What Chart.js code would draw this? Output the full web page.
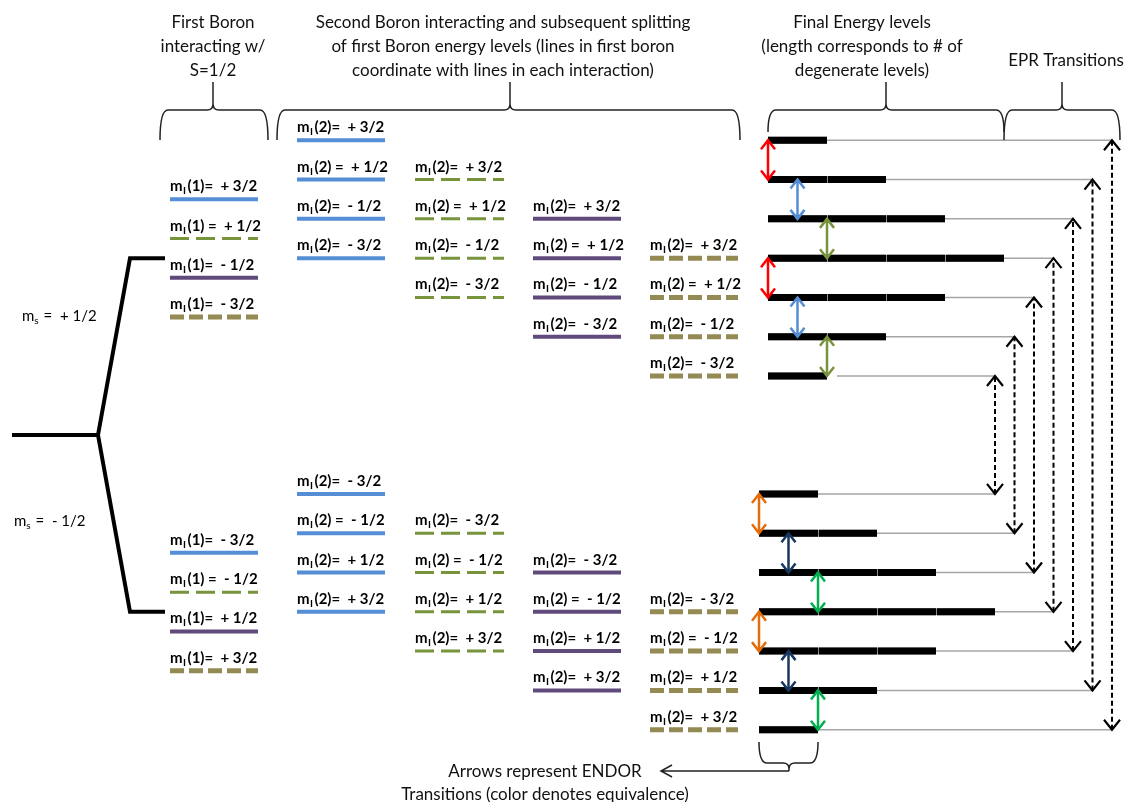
<!DOCTYPE html>
<html><head><meta charset="utf-8">
<script src="https://cdn.jsdelivr.net/npm/chart.js@4/dist/chart.umd.min.js"></script>
<style>html,body{margin:0;padding:0;background:#fff;}#wrap{width:1129px;height:802px;position:relative;}</style>
</head><body><div id="wrap"><canvas id="c" width="1129" height="802"></canvas></div>
<script>
// ---------------- data ----------------
const msValues = [0.5, -0.5];                 // electron spin states
const mI1Values = [1.5, 0.5, -0.5, -1.5];     // first boron nuclear spin
const mI2Values = [1.5, 0.5, -0.5, -1.5];     // second boron nuclear spin
const finalSums = [3, 2, 1, 0, -1, -2, -3];   // mI(1)+mI(2)
const degeneracy = [1, 2, 3, 4, 3, 2, 1];     // # of degenerate levels for each sum
const endorGroups = [0, 1, 2, 0, 1, 2];       // equivalence class of each ENDOR transition (top to bottom)
const eprSums = [-3, -2, -1, 0, 1, 2, 3];     // EPR transitions (ΔmI = 0)
const ZEEMAN = 9, HYPERFINE = 2;              // arbitrary energy units
const energy = (ms, sum) => ms * (ZEEMAN + HYPERFINE * sum);

const headerTexts = [
  ["First Boron", "interacting w/", "S=1/2"],
  ["Second Boron interacting and subsequent splitting", "of first Boron energy levels (lines in first boron", "coordinate with lines in each interaction)"],
  ["Final Energy levels", "(length corresponds to # of", "degenerate levels)"],
  ["EPR Transitions"]
];
const footerTexts = ["Arrows represent ENDOR", "Transitions (color denotes equivalence)"];

// ---------------- layout / styles ----------------
const Y_MAX = 11.07, Y_MIN = -9.34;
const L = {
  root: {x0: 12, x1: 98, xs: 130, xe: 165},
  col1: {x0: 170, x1: 258},
  cols: [{x0: 297, x1: 385}, {x0: 415, x1: 504}, {x0: 533, x1: 621}, {x0: 650, x1: 738}],
  finalStart: {"0.5": 768, "-0.5": 759}, seg: 59,
  eprX0: 995, eprStep: 19.5, endorStep: 29.5,
  headerX: [213, 503, 862, 1066], headerY: [28, 52, 76], eprHeaderY: 66,
  braces: [
    {x0: 160, x1: 268, xc: 213, yTip: 82, yMid: 110, yEnd: 140},
    {x0: 277, x1: 740, xc: 510, yTip: 82, yMid: 110, yEnd: 140},
    {x0: 768, x1: 1004, xc: 886, yTip: 82, yMid: 110, yEnd: 132},
    {x0: 1004, x1: 1120, xc: 1062, yTip: 82, yMid: 110, yEnd: 140},
    {x0: 759, x1: 818, xc: 789, yTip: 771, yMid: 763, yEnd: 742}
  ]
};
const rankStyles = [
  {color: '#558ed5', width: 4, dash: []},
  {color: '#77933c', width: 3, dash: [19, 7]},
  {color: '#604a7b', width: 4, dash: []},
  {color: '#948a54', width: 5, dash: [14, 5]}
];
const endorColors = {"0.5": ['#ff0000', '#558ed5', '#77933c'], "-0.5": ['#e46c0a', '#17375e', '#00b050']};

// ---------------- build datasets ----------------
const datasets = [];
function line(points, color, width, dash, order, extra) {
  datasets.push(Object.assign({data: points, showLine: true, pointRadius: 0, pointHoverRadius: 0,
    borderColor: color, backgroundColor: color, borderWidth: width, borderDash: dash || [],
    borderCapStyle: 'butt', borderJoinStyle: 'miter', fill: false, tension: 0, order: order}, extra || {}));
}
const labels = []; // {x, E, idx, sep, val}
const fmt = v => (v > 0 ? '+ ' : '- ') + (Math.abs(v) * 2) + '/2';

msValues.forEach(ms => {
  const eMs = energy(ms, 0);
  line([{x: L.root.x1, y: 0}, {x: L.root.xs, y: eMs}, {x: L.root.xe, y: eMs}], '#000', 4, [], 6);
  const sorted1 = mI1Values.slice().sort((a, b) => energy(ms, b) - energy(ms, a));
  sorted1.forEach((m1, r) => {
    const st = rankStyles[r];
    line([{x: L.col1.x0, y: energy(ms, m1)}, {x: L.col1.x1, y: energy(ms, m1)}], st.color, st.width, st.dash, 5);
    labels.push({x: L.col1.x0, E: energy(ms, m1), idx: 1, sep: r === 1 ? ' ' : '', val: fmt(m1)});
    const c = L.cols[r];
    const sorted2 = mI2Values.slice().sort((a, b) => energy(ms, m1 + b) - energy(ms, m1 + a));
    sorted2.forEach((m2, q) => {
      const E = energy(ms, m1 + m2);
      line([{x: c.x0, y: E}, {x: c.x1, y: E}], st.color, st.width, st.dash, 5);
      labels.push({x: c.x0, E: E, idx: 2, sep: q === 1 ? ' ' : '', val: fmt(m2)});
    });
  });
  // final levels
  const start = L.finalStart[String(ms)];
  const sortedS = finalSums.slice().sort((a, b) => energy(ms, b) - energy(ms, a));
  sortedS.forEach((s, i) => {
    const E = energy(ms, s);
    const deg = degeneracy[finalSums.indexOf(s)];
    // grey underlay shows through the thin gaps between degenerate segments
    line([{x: start, y: E}, {x: start + deg * L.seg, y: E}], '#8c8c8c', 7, [], 3);
    for (let k = 0; k < deg; k++) {
      const a = start + k * L.seg + (k > 0 ? 1 : 0);
      line([{x: a, y: E}, {x: start + (k + 1) * L.seg, y: E}], '#000', 7, [], 2);
    }
    const xe = L.eprX0 + (s + 3) * L.eprStep;
    const gap = (i === sortedS.length - 1 && ms > 0) ? 10 : 0;
    line([{x: start + deg * L.seg + gap, y: E}, {x: xe, y: E}], '#a6a6a6', 1.5, [], 4);
  });
  // ENDOR transitions
  endorGroups.forEach((g, i) => {
    const x = start + g * L.endorStep;
    line([{x: x, y: energy(ms, sortedS[i])}, {x: x, y: energy(ms, sortedS[i + 1])}],
      endorColors[String(ms)][g], 2.5, [], 0, {arrowHeads: {len: 9, half: 7, width: 2.5}});
  });
});
line([{x: L.root.x0, y: 0}, {x: L.root.x1, y: 0}], '#000', 4, [], 6);
// EPR transitions
eprSums.forEach(s => {
  const x = L.eprX0 + (s + 3) * L.eprStep;
  line([{x: x, y: energy(-0.5, s)}, {x: x, y: energy(0.5, s)}], '#000', 2, [5, 3], 1,
    {arrowHeads: {len: 10, half: 8, width: 2.2}});
});

// ---------------- plugins ----------------
const arrowPlugin = {
  id: 'arrowHeads',
  afterDatasetsDraw(chart) {
    const ctx = chart.ctx;
    chart.data.datasets.forEach((ds, i) => {
      if (!ds.arrowHeads) return;
      const pts = chart.getDatasetMeta(i).data;
      const a = ds.arrowHeads;
      [[pts[0], pts[1]], [pts[pts.length - 1], pts[pts.length - 2]]].forEach(([t, f]) => {
        const dx = t.x - f.x, dy = t.y - f.y, d = Math.hypot(dx, dy);
        const ux = dx / d, uy = dy / d, nx = -uy, ny = ux;
        ctx.save();
        ctx.strokeStyle = ds.borderColor; ctx.lineWidth = a.width; ctx.setLineDash([]);
        ctx.lineJoin = 'miter'; ctx.lineCap = 'butt';
        ctx.beginPath();
        ctx.moveTo(t.x - a.len * ux + a.half * nx, t.y - a.len * uy + a.half * ny);
        ctx.lineTo(t.x, t.y);
        ctx.lineTo(t.x - a.len * ux - a.half * nx, t.y - a.len * uy - a.half * ny);
        ctx.stroke();
        ctx.restore();
      });
    });
  }
};

const FONT = 'Lato, "Open Sans", sans-serif';
const textPlugin = {
  id: 'texts',
  afterDraw(chart) {
    const ctx = chart.ctx, xs = chart.scales.x, ys = chart.scales.y;
    const X = v => xs.getPixelForValue(v), Y = v => ys.getPixelForValue(v);
    ctx.save();
    ctx.fillStyle = '#111';
    ctx.textBaseline = 'alphabetic';
    // headers
    ctx.font = '17px ' + FONT; ctx.textAlign = 'center';
    headerTexts.forEach((lines, h) => {
      lines.forEach((t, j) => {
        const y = h === 3 ? L.eprHeaderY : L.headerY[j];
        ctx.fillText(t, X(L.headerX[h]), y);
      });
    });
    footerTexts.forEach((t, j) => ctx.fillText(t, X(545), 777 + j * 23));
    // level labels
    ctx.textAlign = 'left';
    ctx.fillStyle = '#000';
    labels.forEach(lb => {
      const x = X(lb.x), y = Y(lb.E) - 8;
      ctx.font = 'bold 15px ' + FONT;
      ctx.fillText('m', x, y);
      let w = ctx.measureText('m').width;
      ctx.font = 'bold 10px ' + FONT;
      ctx.fillText('I', x + w + 0.5, y + 3);
      w += ctx.measureText('I').width + 2;
      ctx.font = 'bold 15px ' + FONT;
      ctx.fillText('(' + lb.idx + ')' + lb.sep + '=  ' + lb.val, x + w, y);
    });
    // ms labels
    msValues.forEach(ms => {
      const x = ms > 0 ? 22 : 14, y = Y(energy(ms, 0)) + (ms > 0 ? 63 : -86);
      ctx.font = '15px ' + FONT;
      ctx.fillText('m', x, y);
      let w = ctx.measureText('m').width;
      ctx.font = '10px ' + FONT;
      ctx.fillText('s', x + w, y + 3);
      w += ctx.measureText('s').width + 1;
      ctx.font = '15px ' + FONT;
      ctx.fillText(' =  ' + fmt(ms), x + w, y);
    });
    // braces
    ctx.fillStyle = '#111';
    ctx.strokeStyle = '#222'; ctx.lineWidth = 1.5; ctx.setLineDash([]);
    L.braces.forEach(b => {
      const x0 = X(b.x0), x1 = X(b.x1), xc = X(b.xc);
      const k = b.yTip < b.yMid ? -1 : 1;
      ctx.beginPath();
      ctx.moveTo(x0, b.yEnd);
      ctx.quadraticCurveTo(x0, b.yMid, x0 + 8, b.yMid);
      ctx.lineTo(xc - 6, b.yMid);
      ctx.quadraticCurveTo(xc, b.yMid, xc, b.yMid + k * 6);
      ctx.lineTo(xc, b.yTip);
      ctx.moveTo(xc, b.yMid + k * 6);
      ctx.quadraticCurveTo(xc, b.yMid, xc + 6, b.yMid);
      ctx.lineTo(x1 - 8, b.yMid);
      ctx.quadraticCurveTo(x1, b.yMid, x1, b.yEnd);
      ctx.stroke();
    });
    // pointer arrow from bottom brace to footer text
    ctx.beginPath();
    ctx.moveTo(X(789), 771); ctx.lineTo(X(661), 771);
    ctx.moveTo(X(672), 765); ctx.lineTo(X(661), 771); ctx.lineTo(X(672), 777);
    ctx.stroke();
    ctx.restore();
  }
};

new Chart(document.getElementById('c'), {
  type: 'scatter',
  data: {datasets: datasets},
  options: {
    responsive: false, animation: false, events: [],
    layout: {padding: 0},
    plugins: {legend: {display: false}, tooltip: {enabled: false}},
    scales: {
      x: {type: 'linear', min: 0, max: 1129, display: false},
      y: {type: 'linear', min: Y_MIN, max: Y_MAX, display: false}
    }
  },
  plugins: [arrowPlugin, textPlugin]
});
</script></body></html>
